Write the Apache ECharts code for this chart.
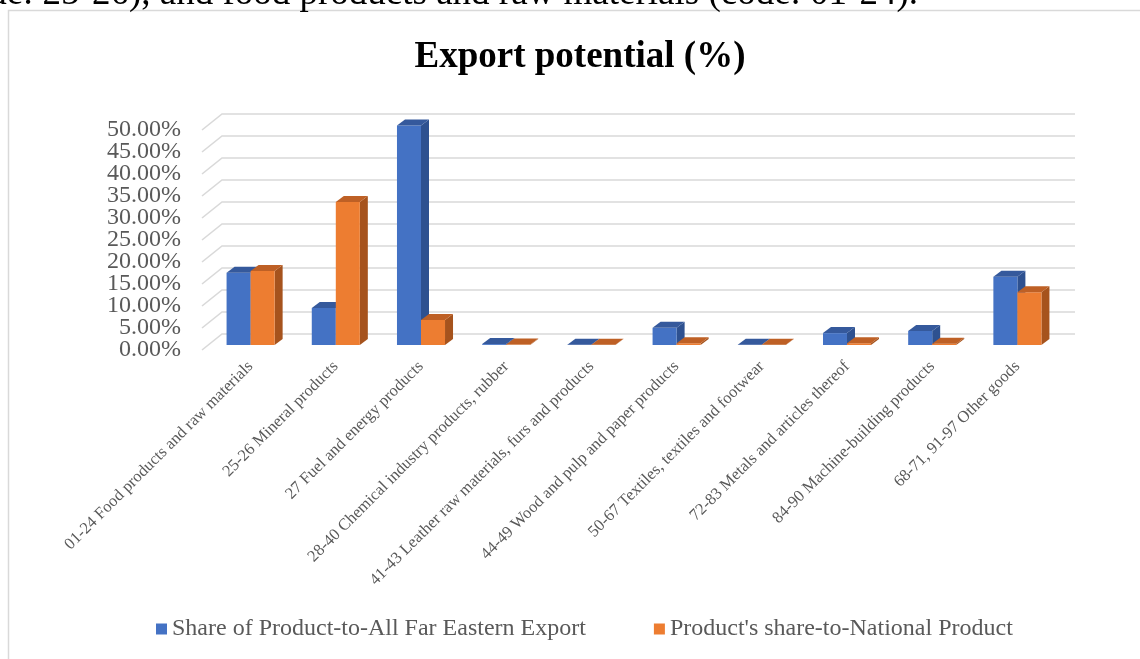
<!DOCTYPE html>
<html>
<head>
<meta charset="utf-8">
<script src="https://cdn.jsdelivr.net/npm/echarts@6/dist/echarts.min.js"></script>
<style>
html,body{margin:0;padding:0;background:#fff;}
#chart{width:1140px;height:659px;}
</style>
</head>
<body>
<div id="chart"></div>
<script>
const categories = [
  '01-24 Food products and raw materials',
  '25-26 Mineral products',
  '27 Fuel and energy products',
  '28-40 Chemical industry products, rubber',
  '41-43 Leather raw materials, furs and products',
  '44-49 Wood and pulp and paper products',
  '50-67 Textiles, textiles and footwear',
  '72-83 Metals and articles thereof',
  '84-90 Machine-building products',
  '68-71, 91-97 Other goods'
];
const seriesNames = ['Share of Product-to-All Far Eastern Export', "Product's share-to-National Product"];
const shareFarEast = [16.4, 8.4, 49.9, 0.2, 0.05, 3.9, 0.05, 2.7, 3.2, 15.5];
const shareNational = [16.8, 32.5, 5.7, 0.1, 0.05, 0.4, 0.05, 0.4, 0.3, 12.0];
const yTicks = [0, 5, 10, 15, 20, 25, 30, 35, 40, 45, 50];
const yTickLabels = ['0.00%', '5.00%', '10.00%', '15.00%', '20.00%', '25.00%', '30.00%', '35.00%', '40.00%', '45.00%', '50.00%'];

const FONT = '"Liberation Serif", "Times New Roman", serif';
const faceColors = [
  {front: '#4472C4', side: '#2E5190', top: '#35599C'},
  {front: '#ED7D31', side: '#A6531D', top: '#BE6025'}
];
const DX = 8, DY = -6, LIFT = 5, BAR_FRAC = 0.282;

function barRenderer(k) {
  return function (params, api) {
    const i = api.value(0), v = api.value(1);
    const top = api.coord([i, v]);
    const base = api.coord([i, 0]);
    const w = api.size([1, 0])[0] * BAR_FRAC;
    const x0 = top[0] + (k === 0 ? -w : 0);
    const yT = top[1] - LIFT, yB = base[1] - LIFT;
    const c = faceColors[k];
    return {
      type: 'group',
      children: [
        {type: 'polygon', shape: {points: [[x0 + w, yT], [x0 + w + DX, yT + DY], [x0 + w + DX, yB + DY], [x0 + w, yB]]}, style: {fill: c.side}},
        {type: 'rect', shape: {x: x0, y: yT, width: w, height: Math.max(yB - yT, 0)}, style: {fill: c.front}},
        {type: 'polygon', shape: {points: [[x0, yT], [x0 + DX, yT + DY], [x0 + w + DX, yT + DY], [x0 + w, yT]]}, style: {fill: c.top}}
      ]
    };
  };
}

const chart = echarts.init(document.getElementById('chart'), null, {renderer: 'canvas'});
chart.setOption({
  backgroundColor: '#fff',
  animation: false,
  title: {
    text: 'Export potential (%)',
    left: 575, top: 34, textAlign: 'center',
    textStyle: {fontFamily: FONT, fontSize: 37, fontWeight: 'bold', color: '#000'}
  },
  graphic: [
    {type: 'rect', shape: {x: 8.5, y: 10.5, width: 1300, height: 800}, style: {fill: null, stroke: '#d9d9d9', lineWidth: 1.5}, z: -10},
    {type: 'text', x: 918, y: -6, style: {text: 'code: 25-26), and food products and raw materials (code: 01-24).', font: '37px ' + FONT, fill: '#000', align: 'right', verticalAlign: 'middle'}}
  ],
  legend: {
    data: seriesNames.map(n => ({name: n, icon: 'rect'})),
    left: 151, top: 612,
    itemWidth: 11, itemHeight: 11, itemGap: 68,
    textStyle: {fontFamily: FONT, fontSize: 24, color: '#595959'}
  },
  grid: {left: 208, right: 80, top: 130, height: 220, containLabel: false},
  xAxis: {
    type: 'category', data: categories,
    axisLine: {show: false}, axisTick: {show: false},
    axisLabel: {interval: 0, rotate: 45, margin: 14, fontFamily: FONT, fontSize: 16.5, color: '#595959'}
  },
  yAxis: {
    type: 'value', min: 0, max: 50, interval: 5,
    axisLine: {show: false}, axisTick: {show: false}, splitLine: {show: false},
    axisLabel: {show: false}
  },
  series: [
    {
      type: 'custom', name: 'gridlines', silent: true, clip: false,
      data: yTicks.map(t => [0, t]), encode: {x: 0, y: 1},
      renderItem: function (params, api) {
        const cs = params.coordSys;
        const y = api.coord([0, api.value(1)])[1];
        return {
          type: 'group',
          children: [
            {type: 'polyline', shape: {points: [[cs.x - 6, y], [cs.x + 14, y - 16], [cs.x + cs.width + 15, y - 16]]}, style: {stroke: '#d9d9d9', lineWidth: 1.6, fill: null}},
            {type: 'text', x: cs.x - 27, y: y, style: {text: yTickLabels[params.dataIndex], font: '24px ' + FONT, fill: '#595959', align: 'right', verticalAlign: 'middle'}}
          ]
        };
      }
    },
    {
      type: 'custom', name: seriesNames[0], clip: false,
      itemStyle: {color: faceColors[0].front},
      data: shareFarEast.map((v, i) => [i, v]), encode: {x: 0, y: 1},
      renderItem: barRenderer(0)
    },
    {
      type: 'custom', name: seriesNames[1], clip: false,
      itemStyle: {color: faceColors[1].front},
      data: shareNational.map((v, i) => [i, v]), encode: {x: 0, y: 1},
      renderItem: barRenderer(1)
    }
  ]
});
</script>
</body>
</html>
